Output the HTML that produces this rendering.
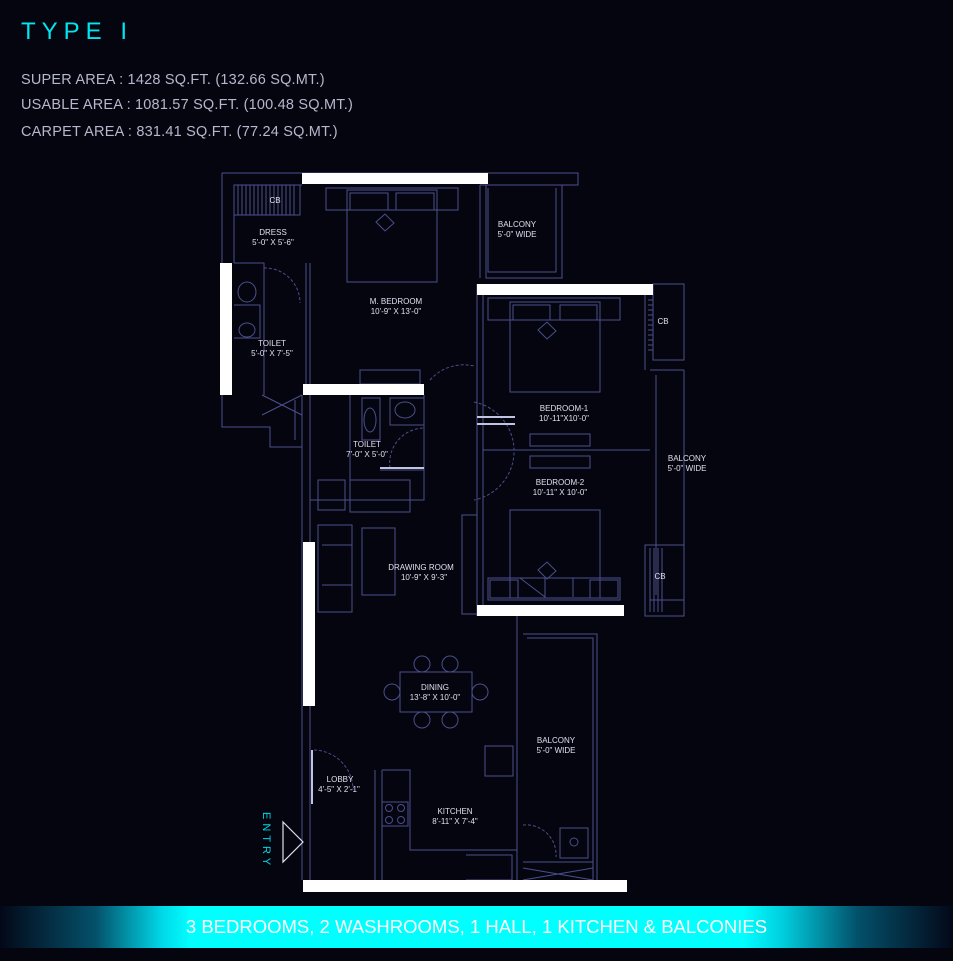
<!DOCTYPE html>
<html><head><meta charset="utf-8"><style>
html,body{margin:0;padding:0;background:#05050f;}
body{width:953px;height:961px;position:relative;overflow:hidden;font-family:"Liberation Sans",sans-serif;}
.t{position:absolute;color:#00e5ee;font-size:24px;left:21px;top:18px;letter-spacing:6px;}
.a{position:absolute;left:21px;color:#b5b8cc;font-size:14.5px;letter-spacing:0.2px;}
.ban{position:absolute;left:0;top:906px;width:953px;height:42px;background:linear-gradient(90deg,#030818 0%,#04506a 10%,#00d8e8 17%,#00ffff 20%,#00ffff 78%,#00d0e0 82%,#03506a 90%,#030818 100%);color:#fff;font-size:18.5px;text-align:center;line-height:42px;}
svg{position:absolute;left:0;top:0;}
</style></head><body>
<div class="t">TYPE I</div>
<div class="a" style="top:72px">SUPER AREA : 1428 SQ.FT. (132.66 SQ.MT.)</div>
<div class="a" style="top:97px">USABLE AREA : 1081.57 SQ.FT. (100.48 SQ.MT.)</div>
<div class="a" style="top:124px">CARPET AREA : 831.41 SQ.FT. (77.24 SQ.MT.)</div>
<svg width="953" height="961" viewBox="0 0 953 961">
<g fill="none" stroke="#4a4f8c" stroke-width="1">
<path d="M222 173H578V185H480M222 173V395M234 185V263M234 185H302"/>
<path d="M234 185H300V215H234Z"/>
<path d="M238 185V215M242 185V215M246 185V215M250 185V215M254 185V215M258 185V215M262 185V215M266 185V215M270 185V215M274 185V215M278 185V215M282 185V215M286 185V215M290 185V215M294 185V215"/>
<path d="M480 185V278M486 185V278H562V185M556 188V272H488V188"/>
<path d="M326 188H458V210H326ZM347 190H437V282H347ZM350 193H388V210H350ZM396 193H434V210H396ZM326 188V210M376 222L385 214L394 223L385 231Z"/>
<path d="M306 263V395M310 263V395M234 263H264V395M234 305H260V338H234"/>
<ellipse cx="247" cy="292" rx="9" ry="10"/><ellipse cx="247" cy="330" rx="8" ry="7"/>
<path d="M264 268A35 35 0 0 1 300 303" stroke-dasharray="3 2"/>
<path d="M360 370H420V384H360Z"/>
<path d="M222 395V427H270V447H302M262 395L302 415M262 415L302 395M295 400V440M310 395V500H424V395M350 395V500"/>
<path d="M362 398H380V440H362ZM390 398H424V425H390Z"/><ellipse cx="370" cy="420" rx="6" ry="12"/><ellipse cx="405" cy="410" rx="10" ry="8"/>
<path d="M424 395V470H380" /><path d="M390 468A35 35 0 0 1 424 428" stroke-dasharray="3 2"/>
<path d="M302 395V880M310 500V542M310 706V880"/>
<path d="M477 284V616M483 295V605"/>
<path d="M430 380A45 45 0 0 1 474 366" stroke-dasharray="3 2"/>
<path d="M474 402A50 50 0 0 1 474 500" stroke-dasharray="3 2"/>
<path d="M488 298H620V320H488ZM510 302H600V392H510ZM513 305H550V320H513ZM560 305H597V320H560ZM538 330L547 322L556 331L547 339Z"/>
<path d="M653 284H684V360H653ZM645 295V370M684 370V600M650 370H684M650 600H684M656 375V595M530 434H590V446H530ZM530 456H590V468H530ZM483 450H650"/>
<path d="M645 295V360M648 300H653M648 305H653M648 310H653M648 315H653M648 320H653M648 325H653M648 330H653M648 335H653M648 340H653M648 345H653M648 350H653"/>
<path d="M488 578H620V600H488ZM510 510H600V598H510ZM490 580H518V598H490ZM590 580H618V598H590ZM520 578H545V597ZM548 578H573V597M538 570L547 562L556 571L547 579Z"/>
<path d="M645 545H684V616H645ZM650 548V612M654 548V612M658 548V612M662 548V612"/>
<path d="M462 515H477V614H462Z"/>
<path d="M318 480H345V510H318ZM350 480H410V512H350ZM318 525H352V612H318ZM362 528H395V595H362ZM322 545H352M322 585H352"/>
<path d="M400 672H472V712H400Z"/>
<circle cx="422" cy="664" r="8"/><circle cx="450" cy="664" r="8"/><circle cx="422" cy="720" r="8"/><circle cx="450" cy="720" r="8"/><circle cx="392" cy="692" r="8"/><circle cx="480" cy="692" r="8"/>
<path d="M517 616V880M523 634H597V880M527 638H593V880M485 746H513V776H485Z"/>
<path d="M523 825A30 30 0 0 1 556 857" stroke-dasharray="3 2"/>
<path d="M560 828H588V858H560ZM523 862H593M523 880L593 868M523 868L593 880"/><circle cx="574" cy="842" r="4"/>
<path d="M375 770V880M382 770H410V850H517M382 770V880M382 802H408V826H382M466 855H512V880H466"/>
<circle cx="389" cy="808" r="3.5"/><circle cx="401" cy="808" r="3.5"/><circle cx="389" cy="820" r="3.5"/><circle cx="401" cy="820" r="3.5"/>
<path d="M314 750A40 40 0 0 1 353 790" stroke-dasharray="3 2"/>
<path d="M312 750V804" stroke="#c0c4e0" stroke-width="2"/>
<path d="M283 822L303 842L283 862Z" stroke="#e0e0f0" stroke-width="1.2"/>
<path d="M477 417H515M477 424H515M424 468H380" stroke="#c0c4e0" stroke-width="2"/>
</g>
<g fill="#fff">
<rect x="302" y="173" width="186" height="11"/>
<rect x="220" y="263" width="12" height="132"/>
<rect x="303" y="384" width="121" height="11"/>
<rect x="477" y="284" width="176" height="11"/>
<rect x="477" y="605" width="147" height="11"/>
<rect x="303" y="542" width="12" height="164"/>
<rect x="303" y="880" width="324" height="12"/>
</g>
<g fill="#dfe0ee" font-family="Liberation Sans, sans-serif" font-size="8" text-anchor="middle">
<text x="275" y="203">CB</text>
<text x="273" y="235">DRESS</text><text x="273" y="245">5'-0" X 5'-6"</text>
<text x="517" y="227">BALCONY</text><text x="517" y="237">5'-0" WIDE</text>
<text x="396" y="304">M. BEDROOM</text><text x="396" y="314">10'-9" X 13'-0"</text>
<text x="272" y="346">TOILET</text><text x="272" y="356">5'-0" X 7'-5"</text>
<text x="663" y="324">CB</text>
<text x="564" y="411">BEDROOM-1</text><text x="564" y="421">10'-11"X10'-0"</text>
<text x="367" y="447">TOILET</text><text x="367" y="457">7'-0" X 5'-0"</text>
<text x="687" y="461">BALCONY</text><text x="687" y="471">5'-0" WIDE</text>
<text x="560" y="485">BEDROOM-2</text><text x="560" y="495">10'-11" X 10'-0"</text>
<text x="421" y="570">DRAWING ROOM</text><text x="424" y="580">10'-9" X 9'-3"</text>
<text x="660" y="579">CB</text>
<text x="435" y="690">DINING</text><text x="435" y="700">13'-8" X 10'-0"</text>
<text x="556" y="743">BALCONY</text><text x="556" y="753">5'-0" WIDE</text>
<text x="340" y="782">LOBBY</text><text x="339" y="792">4'-5" X 2'-1"</text>
<text x="455" y="814">KITCHEN</text><text x="455" y="824">8'-11" X 7'-4"</text>
</g>
<text x="0" y="0" fill="#00d8e8" font-family="Liberation Sans, sans-serif" font-size="11" letter-spacing="4" transform="translate(263 812) rotate(90)">ENTRY</text>
</svg>
<div class="ban">3 BEDROOMS, 2 WASHROOMS, 1 HALL, 1 KITCHEN &amp; BALCONIES</div>
</body></html>
